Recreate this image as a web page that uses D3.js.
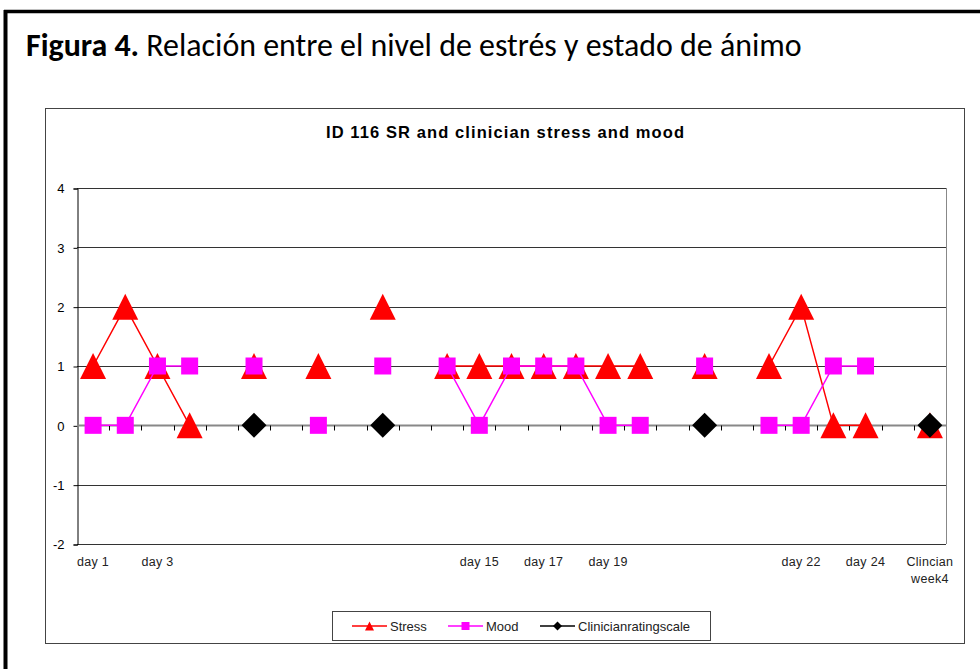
<!DOCTYPE html>
<html>
<head>
<meta charset="utf-8">
<script src="https://cdn.jsdelivr.net/npm/d3@7"></script>
<style>
  body { margin: 0; background: #fff; }
  svg { display: block; }
</style>
</head>
<body>
<svg width="980" height="669"></svg>
<script>
// category labels as shown under the x axis ("" = no label printed)
var categories = ["day 1", "", "day 3", "", "", "", "", "", "", "", "", "", "day 15", "",
    "day 17", "", "day 19", "", "", "", "", "", "day 22", "", "day 24", "", "Clincian week4"];

var stress = [1, 2, 1, 0, null, 1, null, 1, null, 2, null, 1, 1, 1, 1, 1, 1, 1, null, 1, null, 1, 2, 0, 0, null, 0];
var mood = [0, 0, 1, 1, null, 1, null, 0, null, 1, null, 1, 0, 1, 1, 1, 0, 0, null, 1, null, 0, 0, 1, 1, null, null];
var clinician = [null, null, null, null, null, 0, null, null, null, 0, null, null, null, null, null, null, null, null, null, 0, null, null, null, null, null, null, 0];

var yTicks = [-2, -1, 0, 1, 2, 3, 4];
var seriesNames = ["Stress", "Mood", "Clinicianratingscale"];

var svg = d3.select("svg");
var width = +svg.attr("width"),
    height = +svg.attr("height");

// stretch a text element to a target width with letter spacing
function fitSpacing(sel, target) {
    var w = sel.node().getComputedTextLength();
    var n = sel.text().length;
    sel.style("letter-spacing", ((target - w) / (n - 1)) + "px");
}

// outer figure frame
svg.append("line").attr("x1", 4).attr("x2", width).attr("y1", 11.5).attr("y2", 11.5)
    .attr("stroke", "#000").attr("stroke-width", 3.5);
svg.append("line").attr("x1", 5.5).attr("x2", 5.5).attr("y1", 10).attr("y2", height)
    .attr("stroke", "#000").attr("stroke-width", 4);

// figure caption
var cap = svg.append("text").attr("x", 26).attr("y", 56)
    .style("font-family", "Carlito, Calibri, 'Open Sans', Lato, sans-serif")
    .style("font-size", "26px").attr("fill", "#000");
cap.append("tspan").style("font-weight", "bold").text("Figura 4.");
cap.append("tspan").text(" Relación entre el nivel de estrés y estado de ánimo");
var capW = cap.node().getComputedTextLength();
cap.style("font-size", (26 * 776 / capW) + "px");

// chart box
svg.append("rect").attr("x", 45.5).attr("y", 108.5).attr("width", 919).attr("height", 535)
    .attr("fill", "#fff").attr("stroke", "#444").attr("stroke-width", 1);

var title = svg.append("text").attr("x", 326).attr("y", 138)
    .style("font-family", "'Liberation Sans', Arial, sans-serif")
    .style("font-size", "16.5px").style("font-weight", "bold")
    .text("ID 116 SR and clinician stress and mood");
fitSpacing(title, 358);

var plot = { left: 77, top: 188, right: 946, bottom: 544 };

var x = d3.scaleBand()
    .domain(d3.range(categories.length))
    .range([plot.left, plot.right]);

var y = d3.scaleLinear()
    .domain([-2, 4])
    .range([plot.bottom, plot.top]);

var cx = function (i) { return x(i) + x.bandwidth() / 2; };

var chart = svg.append("g");

// horizontal gridlines
chart.append("g").selectAll("line")
    .data(yTicks.filter(function (d) { return d !== 0; }))
    .enter().append("line")
    .attr("x1", plot.left).attr("x2", plot.right)
    .attr("y1", function (d) { return Math.round(y(d)) + 0.5; })
    .attr("y2", function (d) { return Math.round(y(d)) + 0.5; })
    .attr("stroke", "#333").attr("stroke-width", 1);

// right border of plot area
chart.append("line").attr("x1", plot.right + 0.5).attr("x2", plot.right + 0.5)
    .attr("y1", y(4)).attr("y2", y(-2)).attr("stroke", "#888");

// y axis
var yAxis = chart.append("g")
    .attr("transform", "translate(" + (plot.left + 0.5) + ",0.5)")
    .call(d3.axisLeft(y).tickValues(yTicks).tickSize(4).tickPadding(9)
        .tickFormat(function (d) { return String(d); }));
yAxis.select(".domain").attr("stroke", "#000");
yAxis.selectAll("text").style("font-family", "'Liberation Sans', Arial, sans-serif")
    .style("font-size", "13px").attr("fill", "#000");

// x axis line through zero, with ticks at category boundaries
var y0 = Math.round(y(0)) + 0.5;
chart.append("line").attr("x1", plot.left).attr("x2", plot.right)
    .attr("y1", y0).attr("y2", y0).attr("stroke", "#888").attr("stroke-width", 2);
chart.append("g").selectAll("line")
    .data(d3.range(1, categories.length))
    .enter().append("line")
    .attr("x1", function (i) { return Math.round(x(i)) + 0.5; })
    .attr("x2", function (i) { return Math.round(x(i)) + 0.5; })
    .attr("y1", y0).attr("y2", y0 + 5)
    .attr("stroke", "#000").attr("stroke-width", 1);

// category labels below the plot
var xl = chart.append("g").selectAll("text")
    .data(categories.map(function (c, i) { return { label: c, i: i }; }).filter(function (d) { return d.label; }))
    .enter().append("text")
    .attr("text-anchor", "middle")
    .style("font-family", "'Liberation Sans', Arial, sans-serif")
    .style("font-size", "12.5px").style("letter-spacing", "0.3px").attr("fill", "#222");
xl.each(function (d) {
    var words = d.label.indexOf("Clincian") === 0 ? ["Clincian", "week4"] : [d.label];
    var t = d3.select(this);
    words.forEach(function (w, k) {
        t.append("tspan").attr("x", cx(d.i)).attr("y", 566 + k * 17).text(w);
    });
});

// series lines and markers
var colors = ["#ff0000", "#ff00ff", "#000000"];
var allSeries = [stress, mood, clinician];

var line = d3.line()
    .defined(function (d) { return d.v !== null; })
    .x(function (d) { return cx(d.i); })
    .y(function (d) { return y(d.v); });

function marker(kind, px, py, s) {
    if (kind === 0) return "M" + (px - s) + "," + (py + s) + "L" + px + "," + (py - s) + "L" + (px + s) + "," + (py + s) + "Z";
    if (kind === 1) return "M" + (px - s) + "," + (py - s) + "H" + (px + s) + "V" + (py + s) + "H" + (px - s) + "Z";
    return "M" + px + "," + (py - s) + "L" + (px + s) + "," + py + "L" + px + "," + (py + s) + "L" + (px - s) + "," + py + "Z";
}
var markerSize = [13, 8.5, 12.5];

allSeries.forEach(function (vals, k) {
    var pts = vals.map(function (v, i) { return { v: v, i: i }; });
    var g = chart.append("g");
    g.append("path").datum(pts)
        .attr("d", line).attr("fill", "none")
        .attr("stroke", colors[k]).attr("stroke-width", 1.5);
    g.selectAll("path.pt")
        .data(pts.filter(function (d) { return d.v !== null; }))
        .enter().append("path").attr("class", "pt")
        .attr("d", function (d) { return marker(k, cx(d.i), y(d.v), markerSize[k]); })
        .attr("fill", colors[k]);
});

// legend
var legend = svg.append("g");
legend.append("rect").attr("x", 332.5).attr("y", 611.5).attr("width", 378).attr("height", 29)
    .attr("fill", "#fff").attr("stroke", "#444");
var legendX = [352, 448, 540];
seriesNames.forEach(function (name, k) {
    var lx = legendX[k], ly = 626;
    legend.append("line").attr("x1", lx).attr("x2", lx + 35).attr("y1", ly).attr("y2", ly)
        .attr("stroke", colors[k]).attr("stroke-width", 1.5);
    legend.append("path").attr("d", marker(k, lx + 17.5, ly, k === 1 ? 4 : 4.5)).attr("fill", colors[k]);
    legend.append("text").attr("x", lx + 38).attr("y", ly + 4.5)
        .style("font-family", "'Liberation Sans', Arial, sans-serif")
        .style("font-size", "13px").attr("fill", "#222").text(name);
});
</script>
</body>
</html>
